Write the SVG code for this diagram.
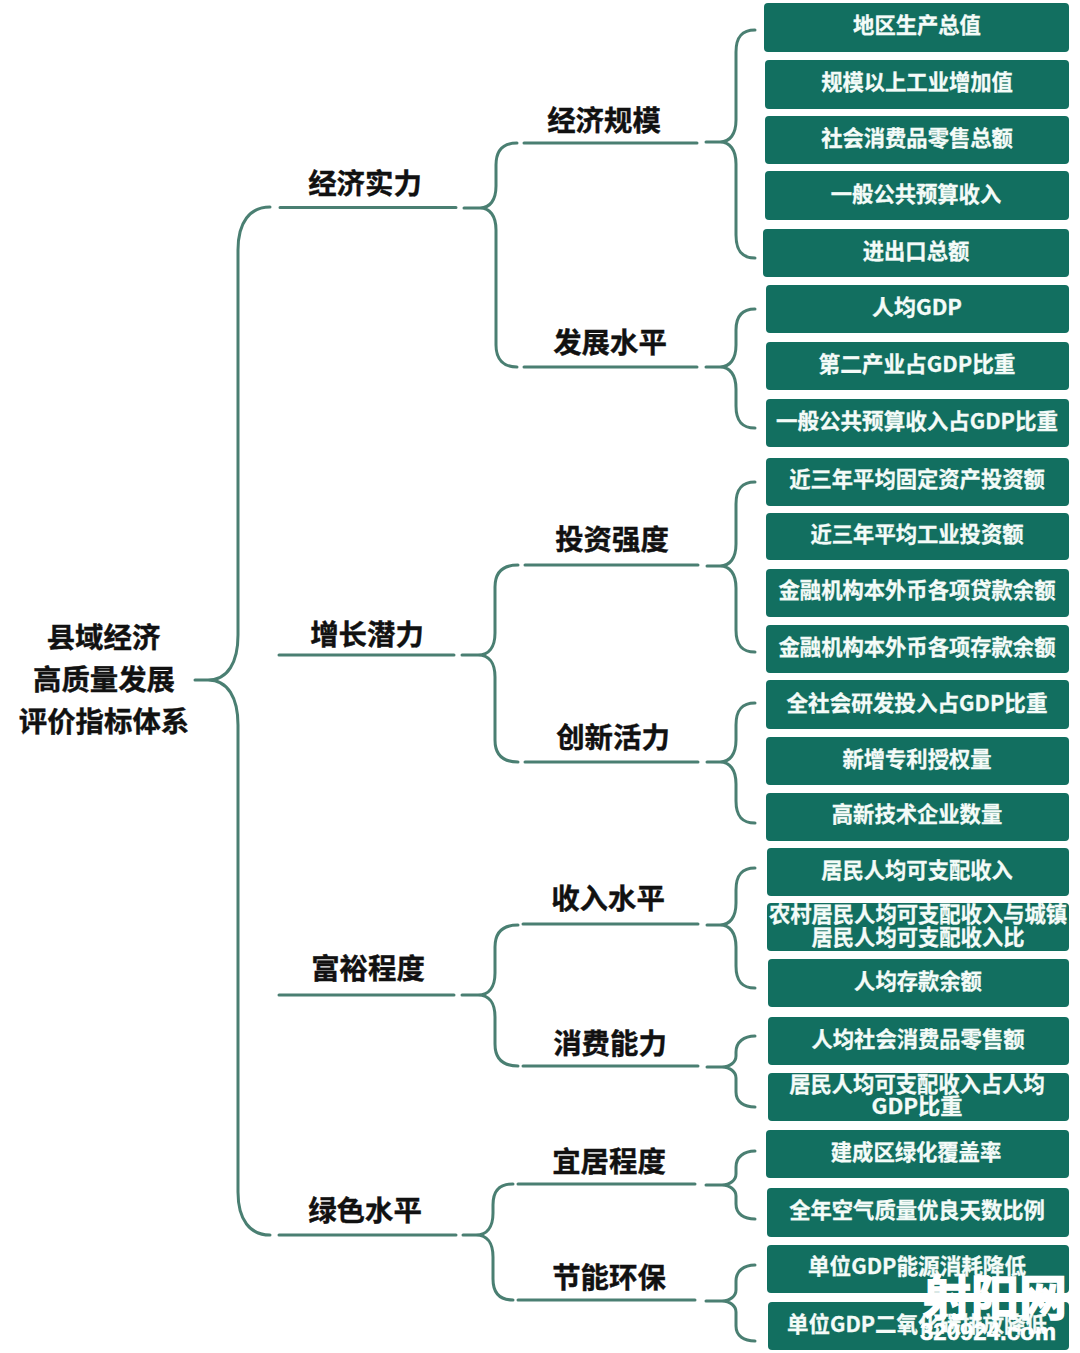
<svg xmlns="http://www.w3.org/2000/svg" width="1080" height="1353" viewBox="0 0 1080 1353">
<style>
text{font-family:"Noto Sans CJK SC","Noto Sans",sans-serif;font-weight:700;text-anchor:middle}
.box rect{fill:#126f60}
.box text{fill:#f4fbf8;font-size:21.3px;stroke:#f4fbf8;stroke-width:.3}
.l1 text,.l2 text,.root text{fill:#111;font-size:28.4px;stroke:#111;stroke-width:.4}
#connectors path{fill:none;stroke:#4a7f72;stroke-width:3;stroke-linecap:round}
.wm{fill:#fff;stroke:#fff}
</style>
<rect width="1080" height="1353" fill="#fff"/>
<g id="connectors">
<path d="M195,680H212M270,207C250,207 238,222 238,250V635C238,662 228,680 208,680C228,680 238,698 238,725V1192C238,1220 250,1235 270,1235"/>
<path d="M280,207.500H456M464,208H482M517,143C504,143 496,149 496,165V186C496,200 490,208 480,208C490,208 496,216 496,230V345C496,360 504,367 517,367"/>
<path d="M279,655H454M462,655H479M518,565C503,565 495,572 495,587V633C495,647 489,655 478,655C489,655 495,663 495,677V740C495,755 503,762 518,762"/>
<path d="M279,995H454M462,995H479M518,925C503,925 495,932 495,947V973C495,987 489,995 478,995C489,995 495,1003 495,1017V1044C495,1059 503,1066 518,1066"/>
<path d="M279,1235H456M463,1235H477M513,1184C500,1184 493,1190 493,1205V1213C493,1227 487,1235 476,1235C487,1235 493,1243 493,1257V1279C493,1293 500,1300 513,1300"/>
<path d="M524,143H697M706,142H722M755,30C742,30 736,37 736,52V120C736,134 730,142 720,142C730,142 736,150 736,164V235C736,251 742,258 755,258"/>
<path d="M524,367H697M706,367H722M755,309C742,309 736,316 736,330V345C736,359 730,367 720,367C730,367 736,375 736,389V406C736,421 742,428 755,428"/>
<path d="M525,565H698M707,566H722M755,482C742,482 736,489 736,504V544C736,558 730,566 720,566C730,566 736,574 736,588V630C736,645 742,652 755,652"/>
<path d="M525,762H698M707,762H722M755,703C742,703 736,710 736,725V740C736,754 730,762 720,762C730,762 736,770 736,784V801C736,816 742,823 755,823"/>
<path d="M523,924H698M707,925H722M755,868C742,868 736,875 736,890V903C736,917 730,925 720,925C730,925 736,933 736,947V966C736,981 742,988 755,988"/>
<path d="M523,1066H698M707,1067H722M755,1036C744,1036 736,1042 736,1052V1056C736,1062 730,1067 722,1067C730,1067 736,1072 736,1078V1092C736,1102 744,1107 755,1107"/>
<path d="M518,1184H695M706,1185H722M755,1151C744,1151 736,1157 736,1167V1174C736,1180 730,1185 722,1185C730,1185 736,1190 736,1196V1204C736,1214 744,1219 755,1219"/>
<path d="M518,1300H695M706,1301H722M755,1265C744,1265 736,1271 736,1281V1290C736,1296 730,1301 722,1301C730,1301 736,1306 736,1312V1326C736,1336 744,1341 755,1341"/>
</g>
<g id="root" class="root">
<text x="103.500" y="648">县域经济</text>
<text x="104" y="690">高质量发展</text>
<text x="104" y="732">评价指标体系</text>
</g>
<g id="n-jjsl" class="l1"><text x="365" y="194">经济实力</text></g>
<g id="n-zzql" class="l1"><text x="367" y="645">增长潜力</text></g>
<g id="n-fycd" class="l1"><text x="368" y="979">富裕程度</text></g>
<g id="n-lssp" class="l1"><text x="365" y="1221">绿色水平</text></g>
<g id="n-jjgm" class="l2"><text x="604" y="131">经济规模</text></g>
<g id="n-fzsp" class="l2"><text x="610" y="353">发展水平</text></g>
<g id="n-tzqd" class="l2"><text x="612" y="550">投资强度</text></g>
<g id="n-cxhl" class="l2"><text x="613" y="748">创新活力</text></g>
<g id="n-srsp" class="l2"><text x="608" y="909">收入水平</text></g>
<g id="n-xfnl" class="l2"><text x="610" y="1054">消费能力</text></g>
<g id="n-yjcd" class="l2"><text x="609" y="1172">宜居程度</text></g>
<g id="n-jnhb" class="l2"><text x="609" y="1288">节能环保</text></g>
<g id="b1" class="box"><rect x="764" y="3" width="305" height="49" rx="4"/><text x="917" y="33">地区生产总值</text></g>
<g id="b2" class="box"><rect x="765" y="60" width="304" height="49" rx="4"/><text x="917" y="90">规模以上工业增加值</text></g>
<g id="b3" class="box"><rect x="765" y="116" width="304" height="48" rx="4"/><text x="917" y="146">社会消费品零售总额</text></g>
<g id="b4" class="box"><rect x="765" y="171" width="304" height="49" rx="4"/><text x="916" y="202">一般公共预算收入</text></g>
<g id="b5" class="box"><rect x="763" y="229" width="306" height="48" rx="4"/><text x="916" y="259">进出口总额</text></g>
<g id="b6" class="box"><rect x="766" y="285" width="303" height="48" rx="4"/><text x="917" y="315" textLength="90" lengthAdjust="spacingAndGlyphs">人均GDP</text></g>
<g id="b7" class="box"><rect x="766" y="342" width="303" height="48" rx="4"/><text x="917" y="372" textLength="197" lengthAdjust="spacingAndGlyphs">第二产业占GDP比重</text></g>
<g id="b8" class="box"><rect x="766" y="399" width="303" height="48" rx="4"/><text x="917" y="429" textLength="282" lengthAdjust="spacingAndGlyphs">一般公共预算收入占GDP比重</text></g>
<g id="b9" class="box"><rect x="766" y="458" width="303" height="48" rx="4"/><text x="917" y="487">近三年平均固定资产投资额</text></g>
<g id="b10" class="box"><rect x="766" y="513" width="303" height="47" rx="4"/><text x="917" y="542">近三年平均工业投资额</text></g>
<g id="b11" class="box"><rect x="766" y="569" width="303" height="48" rx="4"/><text x="917" y="598">金融机构本外币各项贷款余额</text></g>
<g id="b12" class="box"><rect x="766" y="625" width="303" height="48" rx="4"/><text x="917" y="655">金融机构本外币各项存款余额</text></g>
<g id="b13" class="box"><rect x="766" y="680" width="303" height="49" rx="4"/><text x="917" y="711" textLength="261" lengthAdjust="spacingAndGlyphs">全社会研发投入占GDP比重</text></g>
<g id="b14" class="box"><rect x="766" y="737" width="303" height="48" rx="4"/><text x="917" y="767">新增专利授权量</text></g>
<g id="b15" class="box"><rect x="766" y="793" width="303" height="48" rx="4"/><text x="917" y="822">高新技术企业数量</text></g>
<g id="b16" class="box"><rect x="767" y="848" width="302" height="48" rx="4"/><text x="917" y="878">居民人均可支配收入</text></g>
<g id="b17" class="box"><rect x="767" y="903" width="302" height="48" rx="4"/><text x="918" y="922">农村居民人均可支配收入与城镇</text><text x="918" y="945">居民人均可支配收入比</text></g>
<g id="b18" class="box"><rect x="768" y="959" width="301" height="48" rx="4"/><text x="918" y="989">人均存款余额</text></g>
<g id="b19" class="box"><rect x="768" y="1017" width="301" height="48" rx="4"/><text x="918" y="1047">人均社会消费品零售额</text></g>
<g id="b20" class="box"><rect x="768" y="1073" width="301" height="48" rx="4"/><text x="917" y="1092">居民人均可支配收入占人均</text><text x="917" y="1114" textLength="91" lengthAdjust="spacingAndGlyphs">GDP比重</text></g>
<g id="b21" class="box"><rect x="766" y="1130" width="303" height="48" rx="4"/><text x="916" y="1160">建成区绿化覆盖率</text></g>
<g id="b22" class="box"><rect x="767" y="1188" width="302" height="49" rx="4"/><text x="917" y="1218">全年空气质量优良天数比例</text></g>
<g id="b23" class="box"><rect x="767" y="1245" width="302" height="48" rx="4"/><text x="917" y="1274" textLength="218" lengthAdjust="spacingAndGlyphs">单位GDP能源消耗降低</text></g>
<g id="b24" class="box"><rect x="768" y="1302" width="301" height="48" rx="4"/><text x="917" y="1332" textLength="260" lengthAdjust="spacingAndGlyphs">单位GDP二氧化碳排放降低</text></g>
<g id="watermark"><text class="wm" x="995" y="1315" style="font-size:48px;stroke-width:1.5">射阳网</text><text class="wm" x="988" y="1340" style="font-size:24px;stroke-width:.5;font-family:'Liberation Sans',sans-serif">320924.com</text></g>
</svg>
